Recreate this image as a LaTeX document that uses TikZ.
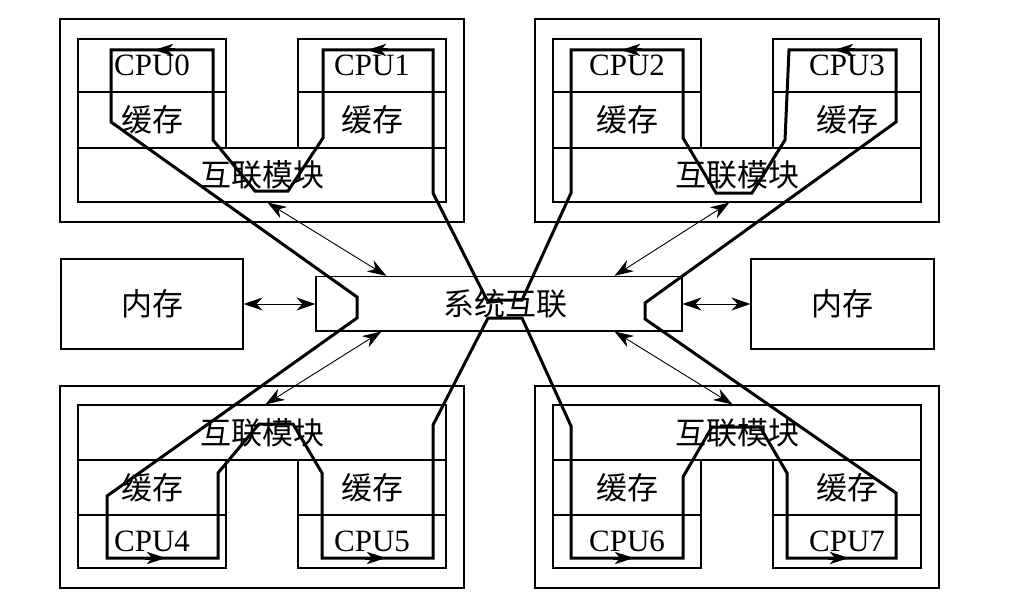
\documentclass[tikz,border=0pt]{standalone}
\usepackage{fontspec}
\setmainfont{Liberation Serif}
\newfontfamily\cjk{Noto Sans CJK SC}
\usetikzlibrary{arrows.meta}
\begin{document}
\begin{tikzpicture}[x=1pt,y=-1pt,
  box/.style={draw, line width=1.1pt, inner sep=0pt, font=\fontsize{31}{36}\selectfont},
  looppath/.style={line width=3pt},
  looparrow/.style={line width=3pt, -{Stealth[length=19pt,width=12pt,inset=5pt]}},
  biarrow/.style={line width=0.9pt, {Stealth[length=19pt,width=13pt,inset=6pt]}-{Stealth[length=19pt,width=13pt,inset=6pt]}}]
\fill[white] (0,0) rectangle (1015,610);
\useasboundingbox (0,0) rectangle (1015,610);

% outer boxes
\node[box, minimum width=404, minimum height=203] (outTL) at (262,120.5) {};
\node[box, minimum width=404, minimum height=203] (outTR) at (737,120.5) {};
\node[box, minimum width=404, minimum height=202] (outBL) at (262,487) {};
\node[box, minimum width=404, minimum height=202] (outBR) at (737,487) {};

% modules
\node[box, minimum width=368, minimum height=54] (modTL) at (262,175) {\cjk 互联模块};
\node[box, minimum width=368, minimum height=54] (modTR) at (737,175) {\cjk 互联模块};
\node[box, minimum width=368, minimum height=55] (modBL) at (262,432.5) {\cjk 互联模块};
\node[box, minimum width=368, minimum height=55] (modBR) at (737,432.5) {\cjk 互联模块};

% top CPUs and caches
\node[box, minimum width=148, minimum height=53] (cpu0) at (152,65.5) {CPU0};
\node[box, minimum width=148, minimum height=56] (ca0) at (152,120) {\cjk 缓存};
\node[box, minimum width=148, minimum height=53] (cpu1) at (372,65.5) {CPU1};
\node[box, minimum width=148, minimum height=56] (ca1) at (372,120) {\cjk 缓存};
\node[box, minimum width=148, minimum height=53] (cpu2) at (627,65.5) {CPU2};
\node[box, minimum width=148, minimum height=56] (ca2) at (627,120) {\cjk 缓存};
\node[box, minimum width=148, minimum height=53] (cpu3) at (847,65.5) {CPU3};
\node[box, minimum width=148, minimum height=56] (ca3) at (847,120) {\cjk 缓存};

% bottom CPUs and caches
\node[box, minimum width=148, minimum height=55] (ca4) at (152,487.5) {\cjk 缓存};
\node[box, minimum width=148, minimum height=53] (cpu4) at (152,541.5) {CPU4};
\node[box, minimum width=148, minimum height=55] (ca5) at (372,487.5) {\cjk 缓存};
\node[box, minimum width=148, minimum height=53] (cpu5) at (372,541.5) {CPU5};
\node[box, minimum width=148, minimum height=55] (ca6) at (627,487.5) {\cjk 缓存};
\node[box, minimum width=148, minimum height=53] (cpu6) at (627,541.5) {CPU6};
\node[box, minimum width=148, minimum height=55] (ca7) at (847,487.5) {\cjk 缓存};
\node[box, minimum width=148, minimum height=53] (cpu7) at (847,541.5) {CPU7};

% memories and system interconnect
\node[box, minimum width=182, minimum height=90] (meml) at (152,304) {\cjk 内存};
\node[box, minimum width=183, minimum height=90] (memr) at (842.5,304) {\cjk 内存};
\node[box, minimum width=366, minimum height=54.5] (sys) at (499,303.7) {};
\node[font=\fontsize{31}{36}\selectfont, inner sep=0pt] (systext) at (505,303.7) {\cjk 系统互联};

% the thick ring
\draw[looppath] (111,122) -- (111,50) -- (213,50) -- (213,140) -- (255,191) -- (288,191)
  -- (323,138) -- (323,50) -- (433,50) -- (433,193) -- (487,300) -- (522,300)
  -- (571,193) -- (571,50) -- (683,50) -- (683,138) -- (716,193) -- (752,193)
  -- (785,140) -- (789,50) -- (896,50) -- (896,122) -- (645,303) -- (645,319)
  -- (896,493) -- (896,558) -- (787,558) -- (787,473) -- (760,427) -- (712,427)
  -- (683,477) -- (683,558) -- (571,558) -- (571,426) -- (522,318) -- (488,318)
  -- (433,425) -- (433,558) -- (322,558) -- (322,473) -- (293,424) -- (259,424)
  -- (218,473) -- (218,558) -- (107,558) -- (107,496) -- (357,318) -- (357,297)
  -- cycle;

% direction marks on the ring
\draw[looparrow] (175,50) -- (154,50);
\draw[looparrow] (388,50) -- (367,50);
\draw[looparrow] (642,50) -- (621,50);
\draw[looparrow] (855,50) -- (834,50);
\draw[looparrow] (145,558) -- (166,558);
\draw[looparrow] (365,558) -- (386,558);
\draw[looparrow] (613,558) -- (634,558);
\draw[looparrow] (828,558) -- (849,558);

% thin double arrows
\draw[biarrow] (meml.east) -- (meml.east -| sys.west);
\draw[biarrow] (memr.west) -- (memr.west -| sys.east);
\draw[biarrow] ([xshift=190pt]modTL.south west) -- ([xshift=71pt]sys.north west);
\draw[biarrow] ([xshift=177pt]modTR.south west) -- ([xshift=299pt]sys.north west);
\draw[biarrow] ([xshift=188pt]modBL.north west) -- ([xshift=66pt]sys.south west);
\draw[biarrow] ([xshift=180pt]modBR.north west) -- ([xshift=299pt]sys.south west);
\end{tikzpicture}
\end{document}
